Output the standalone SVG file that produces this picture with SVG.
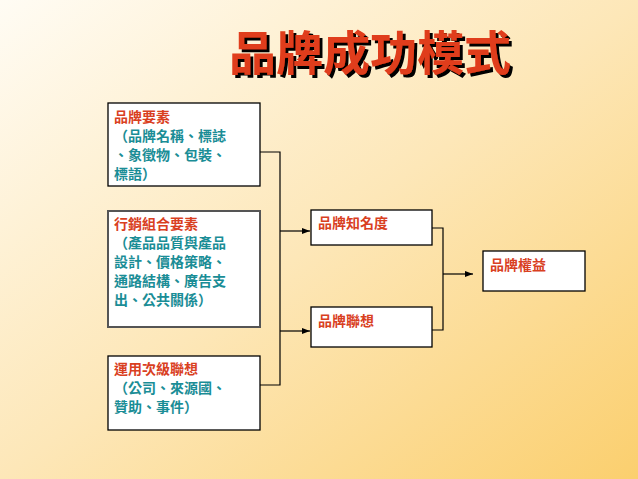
<svg xmlns="http://www.w3.org/2000/svg" width="638" height="479" viewBox="0 0 638 479">
<defs>
<linearGradient id="bg" x1="0" y1="0" x2="1" y2="1">
<stop offset="0" stop-color="#fffcf4"/>
<stop offset="0.5" stop-color="#fde7b8"/>
<stop offset="1" stop-color="#fbcf6e"/>
</linearGradient>
<filter id="sh" x="-10%" y="-20%" width="120%" height="150%">
<feFlood flood-color="#000"/>
<feComposite in2="SourceAlpha" operator="in"/>
<feOffset dx="3" dy="3" result="s"/>
<feMerge><feMergeNode in="s"/><feMergeNode in="SourceGraphic"/></feMerge>
</filter>
<marker id="ah" markerWidth="8" markerHeight="6" refX="8" refY="3" orient="auto" markerUnits="userSpaceOnUse">
<path d="M0,0 L8,3 L0,6 z" fill="#000"/>
</marker>
<style>
.box{fill:#fff;stroke:#000;stroke-width:1.3}
.t{font-family:"Liberation Serif","Noto Sans CJK TC",serif;font-size:14px;font-weight:bold}
.r{fill:#d9401f}
.g{fill:#1a8d96}
.c{fill:none;stroke:#000;stroke-width:1.2}
.title{font-family:"Liberation Serif","Noto Sans CJK TC",serif;font-size:47px;font-weight:bold}
</style>
</defs>
<rect width="638" height="479" fill="url(#bg)"/>
<g id="title">
<text class="title" x="370" y="70" text-anchor="middle" fill="#e03c1a" filter="url(#sh)">品牌成功模式</text>
</g>
<g id="n1">
<rect class="box" x="108" y="103" width="152" height="83"/>
<text class="t r" x="114" y="122">品牌要素</text>
<text class="t g" x="114" y="141">（品牌名稱、標誌</text>
<text class="t g" x="114" y="160">、象徵物、包裝、</text>
<text class="t g" x="114" y="179">標語）</text>
</g>
<g id="n2">
<rect x="108" y="211" width="152" height="116" fill="#fff" stroke="#555" stroke-width="2"/>
<text class="t r" x="114" y="229">行銷組合要素</text>
<text class="t g" x="114" y="248">（產品品質與產品</text>
<text class="t g" x="114" y="267">設計、價格策略、</text>
<text class="t g" x="114" y="286">通路結構、廣告支</text>
<text class="t g" x="114" y="305">出、公共關係）</text>
</g>
<g id="n3">
<rect class="box" x="108" y="356" width="152" height="74"/>
<text class="t r" x="114" y="374">運用次級聯想</text>
<text class="t g" x="114" y="393">（公司、來源國、</text>
<text class="t g" x="114" y="412">贊助、事件）</text>
</g>
<g id="n4">
<rect class="box" x="311" y="210" width="121" height="35"/>
<text class="t r" x="318" y="228">品牌知名度</text>
</g>
<g id="n5">
<rect class="box" x="311" y="307" width="121" height="40"/>
<text class="t r" x="318" y="326">品牌聯想</text>
</g>
<g id="n6">
<rect class="box" x="483" y="251" width="102" height="40"/>
<text class="t r" x="490" y="270">品牌權益</text>
</g>
<g id="connectors">
<path class="c" d="M260,152 H280 V385 H260"/>
<path class="c" d="M280,231 H310" marker-end="url(#ah)"/>
<path class="c" d="M280,331 H310" marker-end="url(#ah)"/>
<path class="c" d="M432,228 H443 V330 H432"/>
<path class="c" d="M443,274 H473" marker-end="url(#ah)"/>
</g>
</svg>
